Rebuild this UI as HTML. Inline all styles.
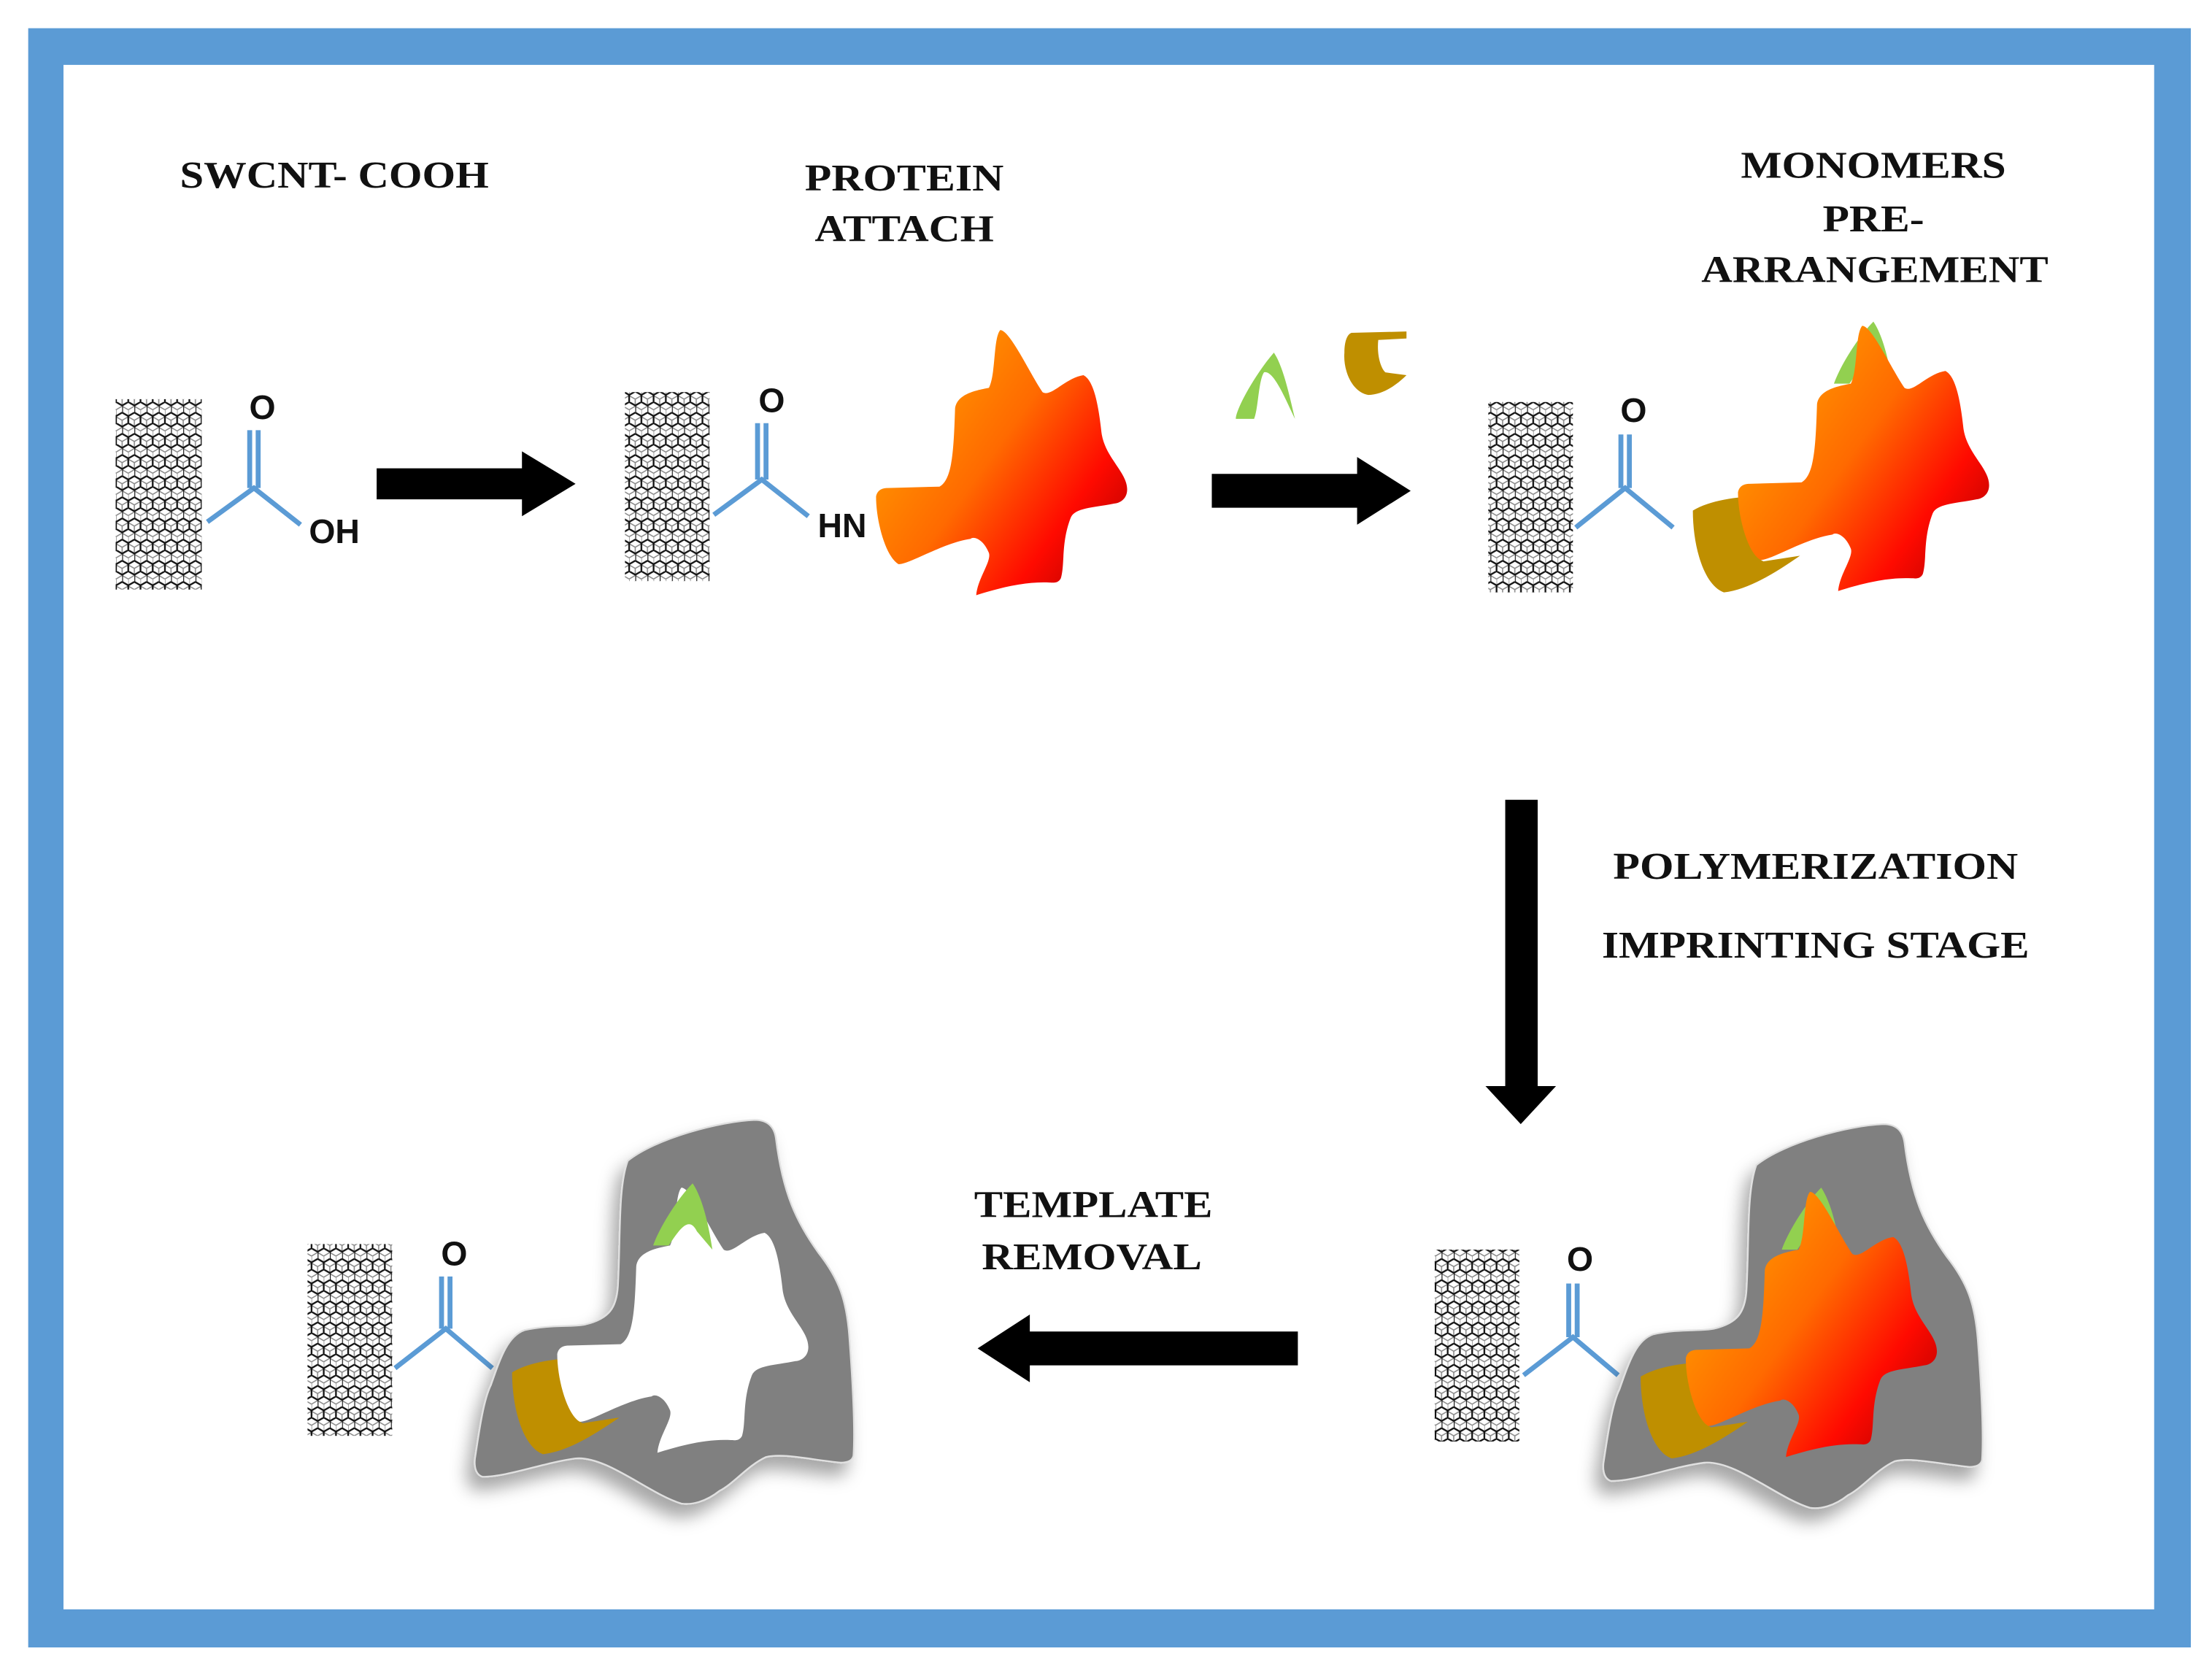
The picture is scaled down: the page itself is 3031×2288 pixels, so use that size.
<!DOCTYPE html>
<html><head><meta charset="utf-8"><style>
html,body{margin:0;padding:0;background:#fff;}
svg{display:block;}
</style></head><body>
<svg width="3031" height="2288" viewBox="0 0 1568 1184" preserveAspectRatio="none" xmlns="http://www.w3.org/2000/svg">
<defs>
<pattern id="hex" patternUnits="userSpaceOnUse" width="8.66" height="15">
<path d="M0,2.5 V7.5 L4.33,10 V15 M4.33,10 L8.66,7.5 M0,2.5 L4.33,0 L8.66,2.5" fill="none" stroke="#111" stroke-width="1.2"/>
</pattern>
<pattern id="hex2" patternUnits="userSpaceOnUse" width="8.66" height="15" x="4.3" y="3">
<path d="M0,2.5 V7.5 L4.33,10 V15 M4.33,10 L8.66,7.5 M0,2.5 L4.33,0 L8.66,2.5" fill="none" stroke="#888" stroke-width="0.8"/>
</pattern>
<linearGradient id="pg" x1="0" y1="0.15" x2="1" y2="0.9">
<stop offset="0" stop-color="#ffa800"/>
<stop offset="0.45" stop-color="#ff6a00"/>
<stop offset="0.75" stop-color="#ff0a00"/>
<stop offset="1" stop-color="#b00000"/>
</linearGradient>
<filter id="sh" x="-20%" y="-20%" width="140%" height="140%">
<feDropShadow dx="-5" dy="9" stdDeviation="6" flood-color="#000" flood-opacity="0.35"/>
</filter>
<path id="prot" d="M709,234 C716,234 730,265 739,278 C745,282 755,268 768,266 C776,270 779,290 781,308 C784,325 799,335 799,347 C799,355 792,357 790,357 C775,360 762,360 759,367 C752,385 755,400 752,410 C750,414 746,413 744,413 C725,412 705,418 692,422 C693,410 703,398 701,392 C697,382 690,380 688,382 C668,385 645,400 637,400 C628,395 621,370 621,352 C622,347 626,346 629,346 L666,345 C675,340 676,320 677,290 C678,280 690,277 701,275 C706,265 704,240 709,234 Z"/>
<path id="gray" d="M1245,826 C1265,810 1310,798 1335,797 C1345,797 1349,803 1350,810 C1355,850 1365,870 1380,891 C1395,910 1400,925 1402,950 C1405,990 1406,1020 1405,1035 C1404,1040 1398,1040 1396,1040 C1375,1038 1355,1033 1343,1036 C1330,1042 1320,1055 1310,1060 C1300,1068 1290,1070 1283,1069 C1260,1062 1230,1035 1208,1037 C1185,1040 1160,1050 1142,1050 C1136,1048 1136,1040 1137,1035 C1140,1015 1143,995 1148,985 C1155,965 1160,950 1172,946 C1190,942 1205,944 1215,942 C1232,938 1237,930 1238,915 C1240,880 1238,845 1245,826 Z"/>
<path id="green3" d="M1328,228 C1336,240 1340,262 1342,275 L1331,262 C1325,250 1318,262 1311,272 L1300,272 C1305,258 1318,238 1328,228Z"/>
<path id="brown3" d="M1200,362 C1215,353 1240,351 1262,352 L1240,360 C1234,375 1240,393 1250,398 L1276,394 C1260,405 1240,418 1222,420 C1208,415 1200,388 1200,362 Z"/>
</defs>

<rect x="20" y="20" width="1533" height="1148" fill="#5b9bd5"/>
<rect x="45" y="46" width="1482" height="1095" fill="#fff"/>

<g font-family="'Liberation Serif', serif" font-weight="bold" font-size="27" fill="#111" text-anchor="middle">
<text x="237" y="133" textLength="219" lengthAdjust="spacingAndGlyphs">SWCNT- COOH</text>
<text x="641" y="135" textLength="141" lengthAdjust="spacingAndGlyphs">PROTEIN</text>
<text x="641" y="171" textLength="127" lengthAdjust="spacingAndGlyphs">ATTACH</text>
<text x="1328" y="126" textLength="188" lengthAdjust="spacingAndGlyphs">MONOMERS</text>
<text x="1328" y="164" textLength="72" lengthAdjust="spacingAndGlyphs">PRE-</text>
<text x="1329" y="200" textLength="246" lengthAdjust="spacingAndGlyphs">ARRANGEMENT</text>
<text x="1287" y="623" textLength="287" lengthAdjust="spacingAndGlyphs">POLYMERIZATION</text>
<text x="1287" y="679" textLength="303" lengthAdjust="spacingAndGlyphs">IMPRINTING STAGE</text>
<text x="775" y="863" textLength="169" lengthAdjust="spacingAndGlyphs">TEMPLATE</text>
<text x="774" y="900" textLength="156" lengthAdjust="spacingAndGlyphs">REMOVAL</text>
</g>

<g>
<rect x="82" y="283" width="61" height="135" fill="url(#hex2)"/><rect x="82" y="283" width="61" height="135" fill="url(#hex)"/>
<rect x="443" y="278" width="60" height="134" fill="url(#hex2)"/><rect x="443" y="278" width="60" height="134" fill="url(#hex)"/>
<rect x="1055" y="285" width="60" height="135" fill="url(#hex2)"/><rect x="1055" y="285" width="60" height="135" fill="url(#hex)"/>
<rect x="218" y="882" width="60" height="136" fill="url(#hex2)"/><rect x="218" y="882" width="60" height="136" fill="url(#hex)"/>
<rect x="1017" y="886" width="60" height="136" fill="url(#hex2)"/><rect x="1017" y="886" width="60" height="136" fill="url(#hex)"/>
</g>

<g stroke="#5b9bd5" stroke-width="3.5" fill="none">
<path d="M147,370 L180,346 L213,372 M177,346 V305 M183,346 V305"/>
<path d="M506,365 L540,340 L573,366 M537,340 V300 M543,340 V300"/>
<path d="M1117,374 L1152,346 L1186,374 M1149,346 V308 M1155,346 V308"/>
<path d="M280,970 L316,942 L349,970 M313,942 V905 M319,942 V905"/>
<path d="M1080,975 L1115,948 L1147,975 M1112,948 V910 M1118,948 V910"/>
</g>
<g font-family="'Liberation Sans', sans-serif" font-weight="bold" font-size="24" fill="#111" text-anchor="middle">
<text x="186" y="297">O</text>
<text x="237" y="385">OH</text>
<text x="547" y="292">O</text>
<text x="597" y="381">HN</text>
<text x="1158" y="299">O</text>
<text x="322" y="897">O</text>
<text x="1120" y="901">O</text>
</g>

<g fill="#000">
<path d="M267,332 H370 V320 L408,343 L370,366 V354 H267 Z"/>
<path d="M859,336 H962 V324 L1000,348 L962,372 V360 H859 Z"/>
<path d="M1067,567 H1090 V770 H1103 L1078,797 L1053,770 H1067 Z"/>
<path d="M920,944 H730 V932 L693,956 L730,980 V968 H920 Z"/>
</g>

<use href="#prot" fill="url(#pg)"/>
<path d="M903,250 C910,260 915,285 918,297 C912,285 903,262 896,264 C892,270 892,290 889,297 L876,297 C876,290 890,265 903,250 Z" fill="#92d050"/>
<path d="M958,236 L997,235 L997,240 L977,241 C976,250 978,260 982,264 L997,266 C990,273 980,280 970,280 C958,278 952,262 953,250 C953,242 955,237 958,236 Z" fill="#bf8f00"/>

<use href="#green3" fill="#92d050"/>
<use href="#brown3" fill="#bf8f00"/>
<use href="#prot" fill="url(#pg)" transform="translate(611,-3)"/>

<use href="#gray" fill="#808080" stroke="#e0e0e0" stroke-width="1.2" filter="url(#sh)"/>
<g transform="translate(-37,614)">
<use href="#green3" fill="#92d050"/>
<use href="#brown3" fill="#bf8f00"/>
</g>
<use href="#prot" fill="url(#pg)" transform="translate(574,611)"/>

<g transform="translate(-800,-3)">
<use href="#gray" fill="#808080" stroke="#e0e0e0" stroke-width="1.2" filter="url(#sh)"/>
<g transform="translate(-37,614)">
<use href="#brown3" fill="#bf8f00"/>
</g>
<use href="#prot" fill="#fff" transform="translate(574,611)"/>
<g transform="translate(-37,614)">
<use href="#green3" fill="#92d050"/>
</g>
</g>
</svg>
</body></html>
